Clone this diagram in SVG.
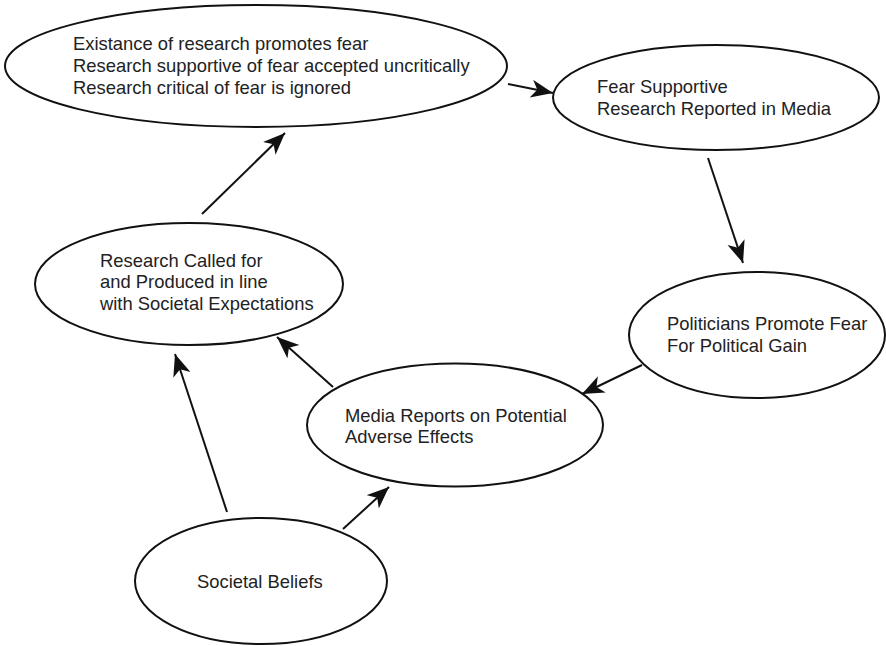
<svg xmlns="http://www.w3.org/2000/svg" width="886" height="646" viewBox="0 0 886 646">
<style>
.n{fill:#fff;stroke:#111;stroke-width:2}
.t{font-family:"Liberation Sans",Arial,sans-serif;font-size:18.4px;fill:#222}
.c{stroke:#111;stroke-width:2;fill:none;marker-end:url(#ah)}
</style>
<defs>
<marker id="ah" markerUnits="userSpaceOnUse" markerWidth="24" markerHeight="20" refX="22" refY="9" orient="auto">
<path d="M0,0 L22,9 L0,18 L6,9 z" fill="#111"/>
</marker>
</defs>
<rect width="886" height="646" fill="#fff"/>
<g id="n1"><ellipse class="n" cx="256" cy="66" rx="251" ry="61"/>
<text class="t" x="73"><tspan x="73" y="50">Existance of research promotes fear</tspan><tspan x="73" y="72">Research supportive of fear accepted uncritically</tspan><tspan x="73" y="94">Research critical of fear is ignored</tspan></text></g>
<g id="n2"><ellipse class="n" cx="716" cy="97.5" rx="163" ry="52.5"/>
<text class="t"><tspan x="597" y="93">Fear Supportive</tspan><tspan x="597" y="115">Research Reported in Media</tspan></text></g>
<g id="n3"><ellipse class="n" cx="757" cy="335" rx="128" ry="63"/>
<text class="t"><tspan x="667" y="330">Politicians Promote Fear</tspan><tspan x="667" y="352">For Political Gain</tspan></text></g>
<g id="n4"><ellipse class="n" cx="189" cy="284" rx="154" ry="61"/>
<text class="t"><tspan x="100" y="267">Research Called for</tspan><tspan x="100" y="288">and Produced in line</tspan><tspan x="100" y="310">with Societal Expectations</tspan></text></g>
<g id="n5"><ellipse class="n" cx="455" cy="425" rx="148" ry="61.5"/>
<text class="t"><tspan x="345" y="422">Media Reports on Potential</tspan><tspan x="345" y="443">Adverse Effects</tspan></text></g>
<g id="n6"><ellipse class="n" cx="261" cy="581" rx="126" ry="63"/>
<text class="t" x="197" y="588">Societal Beliefs</text></g>
<g id="connectors">
<line class="c" x1="508" y1="84" x2="553" y2="93"/>
<line class="c" x1="708" y1="158" x2="743" y2="263"/>
<line class="c" x1="642" y1="365" x2="582" y2="394"/>
<line class="c" x1="333" y1="387" x2="277" y2="337"/>
<line class="c" x1="227" y1="512" x2="175" y2="354"/>
<line class="c" x1="343" y1="529" x2="389" y2="487"/>
<line class="c" x1="202" y1="214" x2="285" y2="133"/>
</g>
</svg>
